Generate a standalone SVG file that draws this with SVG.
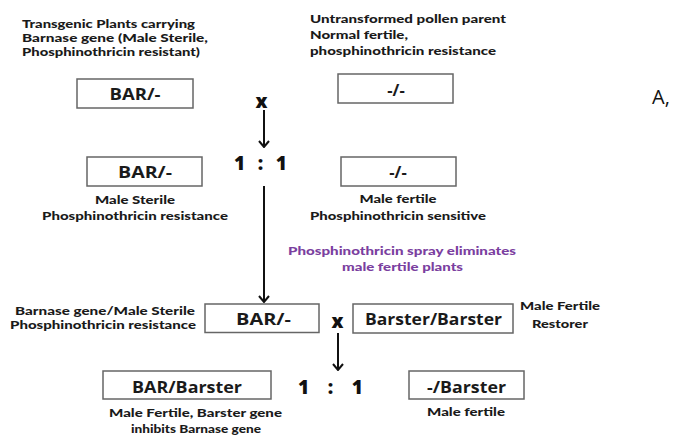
<svg xmlns="http://www.w3.org/2000/svg" width="677" height="437" viewBox="0 0 677 437">
<style>
.t{font-family:Lato,"Open Sans","Liberation Sans",sans-serif;font-weight:900;font-size:11.5px;fill:#1a1a1a}
.m{text-anchor:middle}
.bx{fill:#fff;stroke:#666;stroke-width:1.5}
.bt{font-family:"Open Sans",Lato,"Liberation Sans",sans-serif;font-weight:bold;font-size:16.5px;fill:#1a1a1a;text-anchor:middle}
.r{font-family:"Open Sans",Lato,"Liberation Sans",sans-serif;font-weight:800;font-size:19px;fill:#111;text-anchor:middle}
.p{fill:#7b3fa0}
.ln{stroke:#111;stroke-width:2;fill:none}
</style>
<defs>
<marker id="ah" viewBox="0 0 10 12" refX="9" refY="6" markerWidth="10" markerHeight="12" markerUnits="userSpaceOnUse" orient="auto">
<path d="M3,1 L9,6 L3,11" fill="none" stroke="#111" stroke-width="2"/>
</marker>
</defs>
<rect width="677" height="437" fill="#fff"/>

<g id="labels-top">
<text class="t" x="22" y="28" textLength="173" lengthAdjust="spacingAndGlyphs">Transgenic Plants carrying</text>
<text class="t" x="22" y="42" textLength="186" lengthAdjust="spacingAndGlyphs">Barnase gene (Male Sterile,</text>
<text class="t" x="22" y="56" textLength="178" lengthAdjust="spacingAndGlyphs">Phosphinothricin resistant)</text>
<text class="t" x="310" y="23" textLength="196" lengthAdjust="spacingAndGlyphs">Untransformed pollen parent</text>
<text class="t" x="310" y="39" textLength="98" lengthAdjust="spacingAndGlyphs">Normal fertile,</text>
<text class="t" x="310" y="55" textLength="186" lengthAdjust="spacingAndGlyphs">phosphinothricin resistance</text>
<text x="652" y="104" font-family="'Open Sans',Lato,'Liberation Sans',sans-serif" font-size="20" fill="#111">A,</text>
</g>

<g id="n1">
<rect class="bx" x="77" y="79" width="116" height="29"/>
<text class="bt" x="135" y="100" textLength="51" lengthAdjust="spacingAndGlyphs">BAR/-</text>
</g>
<g id="n2">
<rect class="bx" x="338" y="74" width="115" height="29"/>
<text class="bt" x="396" y="96">-/-</text>
</g>
<g id="cross1">
<text class="r" x="261.5" y="108" font-size="24">x</text>
</g>

<g id="ratio1">
<text class="r" x="260.5" y="170" textLength="53" lengthAdjust="spacing">1 : 1</text>
</g>

<g id="n3">
<rect class="bx" x="87" y="157" width="115" height="29"/>
<text class="bt" x="145" y="178" textLength="54" lengthAdjust="spacingAndGlyphs">BAR/-</text>
<text class="t m" x="135" y="204" textLength="80" lengthAdjust="spacingAndGlyphs">Male Sterile</text>
<text class="t m" x="135" y="220" textLength="186" lengthAdjust="spacingAndGlyphs">Phosphinothricin resistance</text>
</g>
<g id="n4">
<rect class="bx" x="341" y="157" width="115" height="29"/>
<text class="bt" x="398" y="178">-/-</text>
<text class="t m" x="398" y="203" textLength="77" lengthAdjust="spacingAndGlyphs">Male fertile</text>
<text class="t m" x="398" y="220" textLength="176" lengthAdjust="spacingAndGlyphs">Phosphinothricin sensitive</text>
</g>

<g id="spray">
<text class="t m p" x="402" y="255" textLength="228" lengthAdjust="spacingAndGlyphs">Phosphinothricin spray eliminates</text>
<text class="t m p" x="402.5" y="271" textLength="121" lengthAdjust="spacingAndGlyphs">male fertile plants</text>
</g>

<g id="n5">
<text class="t" x="195" y="315" text-anchor="end" textLength="180" lengthAdjust="spacingAndGlyphs">Barnase gene/Male Sterile</text>
<text class="t" x="196" y="329" text-anchor="end" textLength="186" lengthAdjust="spacingAndGlyphs">Phosphinothricin resistance</text>
<rect class="bx" x="205" y="304" width="114" height="28.5"/>
<text class="bt" x="263.5" y="325" textLength="55" lengthAdjust="spacingAndGlyphs">BAR/-</text>
</g>
<g id="cross2">
<text class="r" x="337.5" y="328" font-size="24">x</text>
</g>
<g id="n6">
<rect class="bx" x="353" y="304" width="160" height="29"/>
<text class="bt" x="433.5" y="325" textLength="137" lengthAdjust="spacingAndGlyphs">Barster/Barster</text>
<text class="t m" x="560" y="310" textLength="80" lengthAdjust="spacingAndGlyphs">Male Fertile</text>
<text class="t m" x="560" y="328" textLength="56" lengthAdjust="spacingAndGlyphs">Restorer</text>
</g>

<g id="n7">
<rect class="bx" x="103" y="371" width="168" height="28"/>
<text class="bt" x="187" y="393" textLength="110" lengthAdjust="spacingAndGlyphs">BAR/Barster</text>
<text class="t m" x="195.5" y="417" textLength="173" lengthAdjust="spacingAndGlyphs">Male Fertile, Barster gene</text>
<text class="t m" x="196" y="433" textLength="130" lengthAdjust="spacingAndGlyphs">inhibits Barnase gene</text>
</g>
<g id="ratio2">
<text class="r" x="330.5" y="394" textLength="65" lengthAdjust="spacing">1 : 1</text>
</g>
<g id="n8">
<rect class="bx" x="409" y="371" width="115" height="28"/>
<text class="bt" x="466.5" y="393" textLength="79" lengthAdjust="spacingAndGlyphs">-/Barster</text>
<text class="t m" x="466" y="416" textLength="78" lengthAdjust="spacingAndGlyphs">Male fertile</text>
</g>

<g id="connectors">
<line class="ln" x1="264" y1="110" x2="264" y2="147" marker-end="url(#ah)"/>
<line class="ln" x1="264" y1="186" x2="264" y2="302" marker-end="url(#ah)"/>
<line class="ln" x1="338" y1="333" x2="338" y2="370" marker-end="url(#ah)"/>
</g>
</svg>
